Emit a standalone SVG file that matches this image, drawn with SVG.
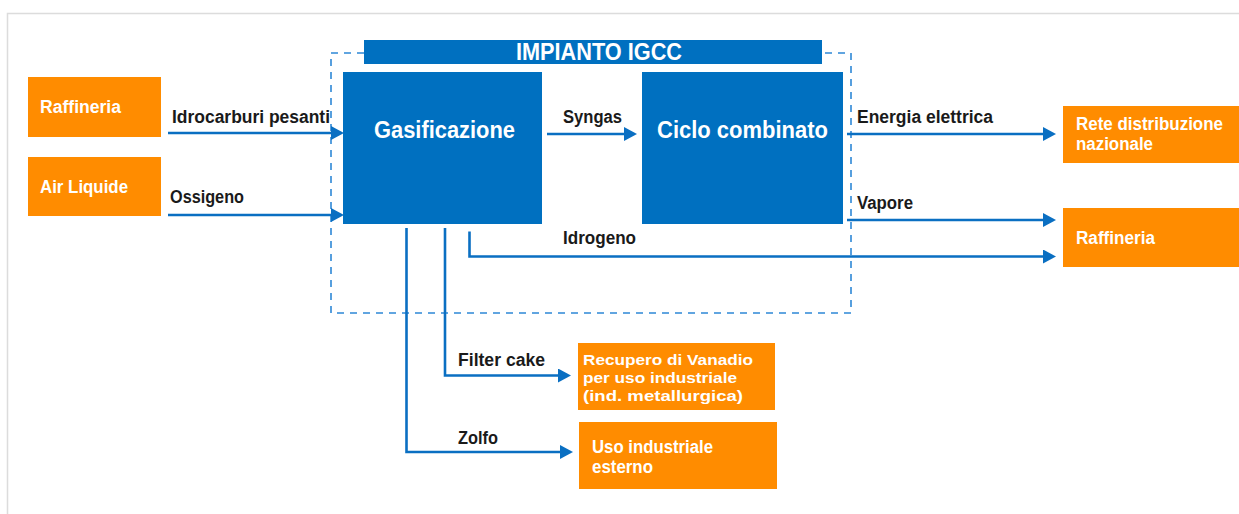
<svg xmlns="http://www.w3.org/2000/svg" width="1239" height="514" viewBox="0 0 1239 514">
<style>
.frame{fill:none;stroke:#dcdcdc;stroke-width:1.5}
.blue{fill:#0070c0}
.orange{fill:#ff8c00}
.dash{fill:none;stroke:#2e88d6;stroke-width:1.6;stroke-dasharray:7 6}
.conn{fill:none;stroke:#0a6fc2;stroke-width:2.6}
.lbl{font-family:"Liberation Sans",Arial,sans-serif;font-weight:bold;font-size:17.5px;fill:#1a1a1a}
.wt{font-family:"Liberation Sans",Arial,sans-serif;font-weight:bold;font-size:17.5px;fill:#ffffff}
.wts{font-family:"Liberation Sans",Arial,sans-serif;font-weight:bold;font-size:15.5px;fill:#ffffff}
.big{font-family:"Liberation Sans",Arial,sans-serif;font-weight:bold;font-size:23.5px;fill:#ffffff}
</style>
<defs>
<marker id="arr" markerUnits="userSpaceOnUse" markerWidth="14" markerHeight="15" refX="6" refY="7" orient="auto">
<path d="M0,0 L13,7 L0,14 z" fill="#0a6fc2"/>
</marker>
</defs>
<rect width="1239" height="514" fill="#ffffff"/>
<path class="frame" d="M7.5,520 L7.5,13.5 L1245,13.5"/>

<g id="igcc">
<rect class="dash" x="331" y="53" width="520" height="260"/>
<rect class="blue" x="364" y="40" width="458" height="24"/>
<text class="big" x="599" y="60" text-anchor="middle" textLength="166" lengthAdjust="spacingAndGlyphs">IMPIANTO IGCC</text>
</g>

<g id="raffineria-in">
<rect class="orange" x="28" y="77" width="133" height="60"/>
<text class="wt" x="40" y="113" textLength="81" lengthAdjust="spacingAndGlyphs">Raffineria</text>
</g>
<g id="air-liquide">
<rect class="orange" x="28" y="157" width="133" height="59"/>
<text class="wt" x="40" y="193" textLength="88" lengthAdjust="spacingAndGlyphs">Air Liquide</text>
</g>

<g id="gasificazione">
<rect class="blue" x="343" y="72" width="199" height="152"/>
<text class="big" x="374" y="138" textLength="141" lengthAdjust="spacingAndGlyphs">Gasificazione</text>
</g>
<g id="ciclo">
<rect class="blue" x="642" y="72" width="201" height="152"/>
<text class="big" x="657" y="138" textLength="171" lengthAdjust="spacingAndGlyphs">Ciclo combinato</text>
</g>

<g id="rete">
<rect class="orange" x="1063" y="106" width="176" height="57"/>
<text class="wt" x="1076" y="130" textLength="147" lengthAdjust="spacingAndGlyphs">Rete distribuzione</text>
<text class="wt" x="1076" y="150" textLength="77" lengthAdjust="spacingAndGlyphs">nazionale</text>
</g>
<g id="raffineria-out">
<rect class="orange" x="1063" y="208" width="176" height="59"/>
<text class="wt" x="1076" y="244" textLength="79" lengthAdjust="spacingAndGlyphs">Raffineria</text>
</g>

<g id="vanadio">
<rect class="orange" x="578" y="343" width="197" height="67"/>
<text class="wts" x="583" y="365" textLength="170" lengthAdjust="spacingAndGlyphs">Recupero di Vanadio</text>
<text class="wts" x="583" y="382.5" textLength="154" lengthAdjust="spacingAndGlyphs">per uso industriale</text>
<text class="wts" x="583" y="400.5" textLength="160" lengthAdjust="spacingAndGlyphs">(ind. metallurgica)</text>
</g>
<g id="uso-esterno">
<rect class="orange" x="579" y="422" width="198" height="67"/>
<text class="wt" x="592" y="453" textLength="121" lengthAdjust="spacingAndGlyphs">Uso industriale</text>
<text class="wt" x="592" y="473" textLength="61" lengthAdjust="spacingAndGlyphs">esterno</text>
</g>

<g id="connectors">
<path class="conn" marker-end="url(#arr)" d="M168,133 L337,133"/>
<path class="conn" marker-end="url(#arr)" d="M168,215 L337,215"/>
<path class="conn" marker-end="url(#arr)" d="M547,134 L630,134"/>
<path class="conn" marker-end="url(#arr)" d="M847,134 L1049,134"/>
<path class="conn" marker-end="url(#arr)" d="M847,220 L1049,220"/>
<path class="conn" marker-end="url(#arr)" d="M469.5,231.5 L469.5,256.5 L1049,256.5"/>
<path class="conn" marker-end="url(#arr)" d="M445,228 L445,375.5 L564,375.5"/>
<path class="conn" marker-end="url(#arr)" d="M406.5,228 L406.5,452 L566,452"/>
<text class="lbl" x="172" y="123" textLength="158" lengthAdjust="spacingAndGlyphs">Idrocarburi pesanti</text>
<text class="lbl" x="170" y="203" textLength="74" lengthAdjust="spacingAndGlyphs">Ossigeno</text>
<text class="lbl" x="563" y="123" textLength="59" lengthAdjust="spacingAndGlyphs">Syngas</text>
<text class="lbl" x="563" y="244" textLength="73" lengthAdjust="spacingAndGlyphs">Idrogeno</text>
<text class="lbl" x="857" y="123" textLength="136" lengthAdjust="spacingAndGlyphs">Energia elettrica</text>
<text class="lbl" x="857" y="209" textLength="56" lengthAdjust="spacingAndGlyphs">Vapore</text>
<text class="lbl" x="458" y="366" textLength="87" lengthAdjust="spacingAndGlyphs">Filter cake</text>
<text class="lbl" x="458" y="444" textLength="40" lengthAdjust="spacingAndGlyphs">Zolfo</text>
</g>
</svg>
